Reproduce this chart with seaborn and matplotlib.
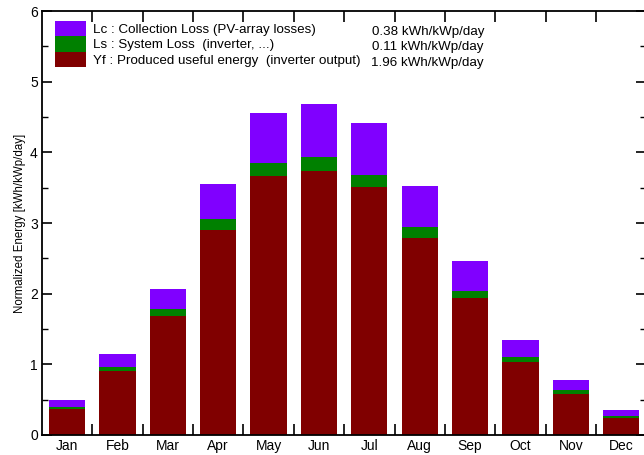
import matplotlib
matplotlib.use('Agg')
import numpy as np
import pandas as pd
import matplotlib.pyplot as plt
import seaborn as sns
from matplotlib.patches import Patch
from matplotlib.ticker import MultipleLocator, FixedLocator

# --- data ---
months = ["Jan", "Feb", "Mar", "Apr", "May", "Jun", "Jul", "Aug", "Sep", "Oct", "Nov", "Dec"]
yf = [0.37, 0.91, 1.69, 2.90, 3.66, 3.74, 3.51, 2.79, 1.94, 1.04, 0.585, 0.245]   # produced useful energy
ls = [0.03, 0.05, 0.09, 0.15, 0.19, 0.19, 0.17, 0.15, 0.10, 0.06, 0.05, 0.025]   # system loss
lc = [0.10, 0.19, 0.29, 0.50, 0.70, 0.76, 0.735, 0.58, 0.42, 0.24, 0.14, 0.09]   # collection loss

legend_labels = ["Lc : Collection Loss (PV-array losses)",
                 "Ls : System Loss  (inverter, ...)",
                 "Yf : Produced useful energy  (inverter output)"]
legend_values = ["0.38 kWh/kWp/day", "0.11 kWh/kWp/day", "1.96 kWh/kWp/day"]
colors = ["#8000ff", "#008000", "#800000"]

sns.set_style("ticks", {"axes.edgecolor": "black", "xtick.color": "black", "ytick.color": "black",
                        "text.color": "black", "axes.labelcolor": "black"})
plt.rcParams['font.family'] = ['Liberation Sans', 'DejaVu Sans']

df = pd.DataFrame({"Month": months, "Yf": yf, "Ls": ls, "Lc": lc})
df["YfLs"] = df["Yf"] + df["Ls"]
df["Total"] = df["YfLs"] + df["Lc"]

fig = plt.figure(figsize=(6.44, 4.55), dpi=100)
ax = fig.add_axes([42 / 644, 1 - 435 / 455, 604.3 / 644, 424 / 455])

# stacked bars drawn back to front
for col, c in zip(["Total", "YfLs", "Yf"], colors):
    sns.barplot(data=df, x="Month", y=col, order=months, color=c, width=0.72,
                saturation=1, linewidth=0, ax=ax)

ax.set_xlim(-0.5, 11.5)
ax.set_ylim(0, 6)
ax.set_xlabel("")
ax.set_ylabel("Normalized Energy [kWh/kWp/day]", fontsize=8.3, labelpad=3)

# ticks
ax.xaxis.set_minor_locator(FixedLocator(np.arange(0.5, 11.5, 1)))
ax.tick_params(axis='x', which='major', length=0, labelsize=10, pad=3)
ax.tick_params(axis='x', which='minor', direction='in', length=8, width=1.2, top=True, bottom=True)
ax.yaxis.set_major_locator(MultipleLocator(1))
ax.yaxis.set_minor_locator(MultipleLocator(0.5))
ax.tick_params(axis='y', which='major', direction='in', length=7, width=1.2, left=True, right=True,
               labelsize=10, pad=3)
ax.tick_params(axis='y', which='minor', direction='in', length=4, width=1, left=True, right=True)
for s in ax.spines.values():
    s.set_linewidth(1.3)
    s.set_color('black')
    s.set_visible(True)

# legend with values column
handles = [Patch(facecolor=c, edgecolor='none') for c in colors]
leg = ax.legend(handles, legend_labels, loc='upper left', bbox_to_anchor=(13 / 604.3, 1 - 9.7 / 424),
                frameon=False, fontsize=9.65, handlelength=2.3, handleheight=1.4,
                handletextpad=0.55, labelspacing=0, borderaxespad=0, borderpad=0)
for i, v in enumerate(legend_values):
    ax.text((484 - 42) / 604.3, 1 - (20.5 + 15.6 * i) / 424, v, transform=ax.transAxes,
            ha='right', va='center', fontsize=9.65)

fig.savefig("out.png", dpi=100)
